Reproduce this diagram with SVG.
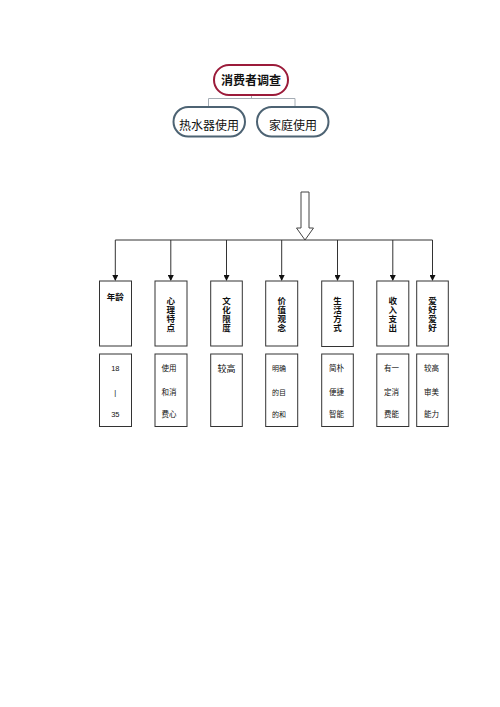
<svg xmlns="http://www.w3.org/2000/svg" width="500" height="707" viewBox="0 0 500 707">
<defs>
<style>
text{font-family:"Liberation Sans","Noto Sans CJK SC",sans-serif;fill:#111;text-anchor:middle;}
.t{font-size:12px;}
.h{font-size:8.5px;font-weight:bold;}
.s{font-size:7.5px;}
.box{fill:#fff;stroke:#333;stroke-width:1;}
.ln{stroke:#333;stroke-width:1;fill:none;}
</style>
<marker id="ah" markerWidth="6" markerHeight="6" refX="5" refY="3" orient="auto" markerUnits="userSpaceOnUse"><path d="M0,0 L6,3 L0,6 z" fill="#111"/></marker>
</defs>
<rect width="500" height="707" fill="#fff"/>
<g id="connectors">
<path d="M251.5,95 V98.5 M208.5,108 V98.5 H295 V108" stroke="#a4acb4" stroke-width="1" fill="none"/>
<path d="M301,192 H309 V228 H313.5 L305,240 L296.5,228 H301 Z" fill="#fff" stroke="#444" stroke-width="1"/>
<path class="ln" d="M115.3,240 H432.5"/>
<line class="ln" x1="115.3" y1="240" x2="115.3" y2="280" marker-end="url(#ah)"/>
<line class="ln" x1="170.8" y1="240" x2="170.8" y2="280" marker-end="url(#ah)"/>
<line class="ln" x1="226.5" y1="240" x2="226.5" y2="280" marker-end="url(#ah)"/>
<line class="ln" x1="281.7" y1="240" x2="281.7" y2="280" marker-end="url(#ah)"/>
<line class="ln" x1="337.5" y1="240" x2="337.5" y2="280" marker-end="url(#ah)"/>
<line class="ln" x1="392.8" y1="240" x2="392.8" y2="280" marker-end="url(#ah)"/>
<line class="ln" x1="432.5" y1="240" x2="432.5" y2="280" marker-end="url(#ah)"/>
</g>
<g id="root">
<rect x="214" y="65" width="74" height="30" rx="15" fill="#fff" stroke="#9b1b3a" stroke-width="2"/>
<text class="t" x="251" y="84.5" font-weight="bold">消费者调查</text>
</g>
<g id="heater">
<rect x="173.5" y="107" width="71.5" height="29.5" rx="14.7" fill="#fff" stroke="#4d6373" stroke-width="2"/>
<text class="t" x="209" y="130">热水器使用</text>
</g>
<g id="home">
<rect x="257" y="107" width="71.5" height="29.5" rx="14.7" fill="#fff" stroke="#4d6373" stroke-width="2"/>
<text class="t" x="293" y="130">家庭使用</text>
</g>
<g id="age">
<rect class="box" x="99.5" y="281" width="32" height="65"/>
<text class="h" x="115.3" y="300">年龄</text>
</g>
<g id="psych">
<rect class="box" x="155" y="281" width="32" height="65"/>
<text class="h" x="170.8"><tspan x="170.8" y="303.5">心</tspan><tspan x="170.8" y="312.5">理</tspan><tspan x="170.8" y="321.5">特</tspan><tspan x="170.8" y="330.5">点</tspan></text>
</g>
<g id="culture">
<rect class="box" x="210.7" y="281" width="31.6" height="65"/>
<text class="h" x="226.5"><tspan x="226.5" y="303.5">文</tspan><tspan x="226.5" y="312.5">化</tspan><tspan x="226.5" y="321.5">限</tspan><tspan x="226.5" y="330.5">度</tspan></text>
</g>
<g id="values">
<rect class="box" x="265.7" y="281" width="32" height="65"/>
<text class="h" x="281.7"><tspan x="281.7" y="303.5">价</tspan><tspan x="281.7" y="312.5">值</tspan><tspan x="281.7" y="321.5">观</tspan><tspan x="281.7" y="330.5">念</tspan></text>
</g>
<g id="lifestyle">
<rect class="box" x="321.7" y="281" width="31.6" height="65.5"/>
<text class="h" x="337.5"><tspan x="337.5" y="303.5">生</tspan><tspan x="337.5" y="312.5">活</tspan><tspan x="337.5" y="321.5">方</tspan><tspan x="337.5" y="330.5">式</tspan></text>
</g>
<g id="income">
<rect class="box" x="376.8" y="281" width="32" height="65"/>
<text class="h" x="392.8"><tspan x="392.8" y="303.5">收</tspan><tspan x="392.8" y="312.5">入</tspan><tspan x="392.8" y="321.5">支</tspan><tspan x="392.8" y="330.5">出</tspan></text>
</g>
<g id="hobby">
<rect class="box" x="416.7" y="281" width="31.6" height="65"/>
<text class="h" x="432.5"><tspan x="432.5" y="303.5">爱</tspan><tspan x="432.5" y="312.5">好</tspan><tspan x="432.5" y="321.5">爱</tspan><tspan x="432.5" y="330.5">好</tspan></text>
</g>
<g id="age-d">
<rect class="box" x="99.5" y="354" width="32" height="72.5"/>
<text class="s" x="115.3" y="371">18</text>
<text class="s" x="115.3" y="394.5">|</text>
<text class="s" x="115.3" y="417">35</text>
</g>
<g id="psych-d">
<rect class="box" x="155" y="354" width="32" height="72.5"/>
<text class="s" x="169" y="371">使用</text>
<text class="s" x="169" y="394.5">和消</text>
<text class="s" x="169" y="417">费心</text>
</g>
<g id="culture-d">
<rect class="box" x="210.7" y="354" width="31.6" height="72.5"/>
<text x="226.5" y="371.5" font-size="9">较高</text>
</g>
<g id="values-d">
<rect class="box" x="265.7" y="354" width="32" height="72.5"/>
<text x="279" y="371" font-size="7">明确</text>
<text x="279" y="394.5" font-size="7">的目</text>
<text x="279" y="417" font-size="7">的和</text>
</g>
<g id="lifestyle-d">
<rect class="box" x="321.7" y="354" width="31.6" height="72.5"/>
<text class="s" x="336.5" y="371">简朴</text>
<text class="s" x="336.5" y="394.5">便捷</text>
<text class="s" x="336.5" y="417">智能</text>
</g>
<g id="income-d">
<rect class="box" x="376.8" y="354" width="32" height="72.5"/>
<text class="s" x="391.5" y="371">有一</text>
<text class="s" x="391.5" y="394.5">定消</text>
<text class="s" x="391.5" y="417">费能</text>
</g>
<g id="hobby-d">
<rect class="box" x="416.7" y="354" width="31.6" height="72.5"/>
<text class="s" x="431.5" y="371">较高</text>
<text class="s" x="431.5" y="394.5">审美</text>
<text class="s" x="431.5" y="417">能力</text>
</g>
</svg>
